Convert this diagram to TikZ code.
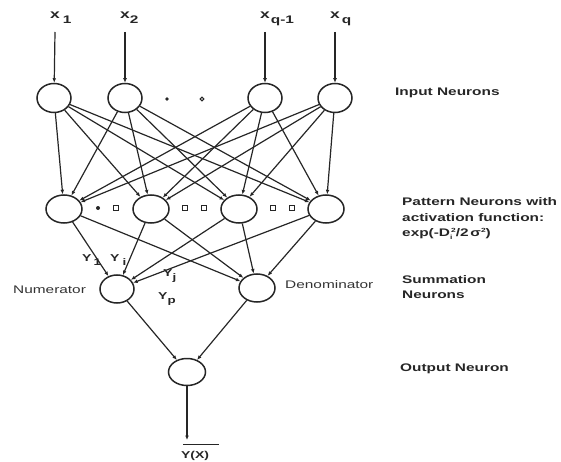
\documentclass[tikz,border=0pt]{standalone}
\usepackage{fontspec}
\setmainfont[FakeStretch=1.4]{Liberation Sans}
\usetikzlibrary{arrows.meta,shapes.geometric}
\tikzset{
  neuron/.style={draw=black!85, line width=1.5pt, ellipse, minimum width=35pt, minimum height=28pt, inner sep=0pt},
  conn/.style={draw=black!85, line width=1.2pt, -{Latex[length=4.5pt,width=3.8pt]}},
  lbl/.style={font=\bfseries\fontsize{11}{13}\selectfont, text=black!85, inner sep=0pt, anchor=west},
  plainlbl/.style={font=\fontsize{11}{13}\selectfont, text=black!80, inner sep=0pt, anchor=west},
  toplbl/.style={font=\bfseries\fontsize{12.5}{14}\selectfont, text=black!85, inner sep=0pt, anchor=base west},
  ylbl/.style={font=\bfseries\fontsize{10}{12}\selectfont, text=black!85, inner sep=0pt, anchor=base west},
  sq/.style={draw=black!85, line width=1pt, minimum size=4.5pt, inner sep=0pt, rectangle},
}
\newcommand{\subsc}[1]{\raisebox{-5pt}{\fontsize{11}{12}\selectfont #1}}
\newcommand{\ysub}[1]{\raisebox{-4pt}{\fontsize{9.5}{11}\selectfont #1}}
\begin{document}
\begin{tikzpicture}[x=1pt,y=-1pt]
\useasboundingbox (0,0) rectangle (561,462);
% input labels
\node[toplbl] (tx1) at (50,19) {x\hspace{3pt}\subsc{1}};
\node[toplbl] (tx2) at (120,19) {x\subsc{2}};
\node[toplbl] (tx3) at (260,19) {x\hspace{1pt}\subsc{q-1}};
\node[toplbl] (tx4) at (330,19) {x\hspace{2pt}\subsc{q}};
\coordinate (c1) at (55,32);
\coordinate (c2) at (125,32);
\coordinate (c3) at (265,32);
\coordinate (c4) at (335,32);
% input neurons
\node[neuron, minimum width=34pt, minimum height=29pt] (i1) at (54,98) {};
\node[neuron, minimum width=34pt, minimum height=29pt] (i2) at (125,98) {};
\node[neuron, minimum width=34pt, minimum height=29pt] (i3) at (265,98) {};
\node[neuron, minimum width=34pt, minimum height=29pt] (i4) at (335,98) {};
% pattern neurons
\node[neuron, minimum width=36pt] (p1) at (64,209) {};
\node[neuron, minimum width=36pt] (p2) at (151,209) {};
\node[neuron, minimum width=36pt] (p3) at (239,209) {};
\node[neuron, minimum width=36pt] (p4) at (326,209) {};
% summation
\node[neuron, minimum width=34pt] (num) at (117,289) {};
\node[neuron, minimum width=36pt] (den) at (257,288) {};
% output
\node[neuron, minimum width=37pt, minimum height=27pt] (out) at (187,372) {};
\coordinate (oend) at (187,440);
% connectors
\draw[conn] (c1) -- (i1);
\draw[conn] (c2) -- (i2);
\draw[conn] (c3) -- (i3);
\draw[conn] (c4) -- (i4);
\foreach \a in {i1,i2,i3,i4}
  \foreach \b in {p1,p2,p3,p4}
    \draw[conn] (\a) -- (\b);
\foreach \a in {p1,p2,p3,p4}
  \foreach \b in {num,den}
    \draw[conn] (\a) -- (\b);
\draw[conn] (num) -- (out);
\draw[conn] (den) -- (out);
\draw[conn] (out) -- (oend);
% output line and label
\coordinate (la) at (183,444);
\coordinate (lb) at (219,444);
\draw[black!85, line width=1pt] (la) -- (lb);
\node[font=\bfseries\fontsize{10}{12}\selectfont, text=black!85, inner sep=0pt] (yx) at (195,456) {Y(X)};
% dots
\fill[black!85] (167,99) circle (1.8);
\draw[black!85, line width=1pt] (202,99) circle (1.9);
\fill[black!85] (98,208) circle (2);
\node[sq] (s1) at (116,208) {};
\node[sq] (s2) at (185,208) {};
\node[sq] (s3) at (204,208) {};
\node[sq] (s4) at (273,208) {};
\node[sq] (s5) at (292,208) {};
% Y labels
\node[ylbl] (y1) at (82,261) {Y\hspace{2pt}\ysub{1}};
\node[ylbl] (yi) at (110,261) {Y\hspace{3pt}\ysub{i}};
\node[ylbl] (yj) at (163,276) {Y\ysub{j}};
\node[ylbl] (yp) at (158,299) {Y\ysub{p}};
% side labels
\node[plainlbl] (numl) at (13,290) {Numerator};
\node[plainlbl] (denl) at (285,285) {Denominator};
\node[lbl] (lin) at (395,93) {Input Neurons};
\node[lbl] (lp1) at (402,202) {Pattern Neurons with};
\node[lbl] (lp2) at (402,218) {activation function:};
\node[lbl] (lp3) at (402,234) {exp(-D\makebox[0pt][l]{\raisebox{-2.5pt}{\fontsize{6}{6}\selectfont i}}\hspace{1pt}\raisebox{4pt}{\fontsize{6}{6}\selectfont 2}/2\,σ\raisebox{4pt}{\fontsize{6}{6}\selectfont 2})};
\node[lbl] (ls1) at (402,280) {Summation};
\node[lbl] (ls2) at (402,295) {Neurons};
\node[lbl] (lo) at (400,369) {Output Neuron};
\end{tikzpicture}
\end{document}
